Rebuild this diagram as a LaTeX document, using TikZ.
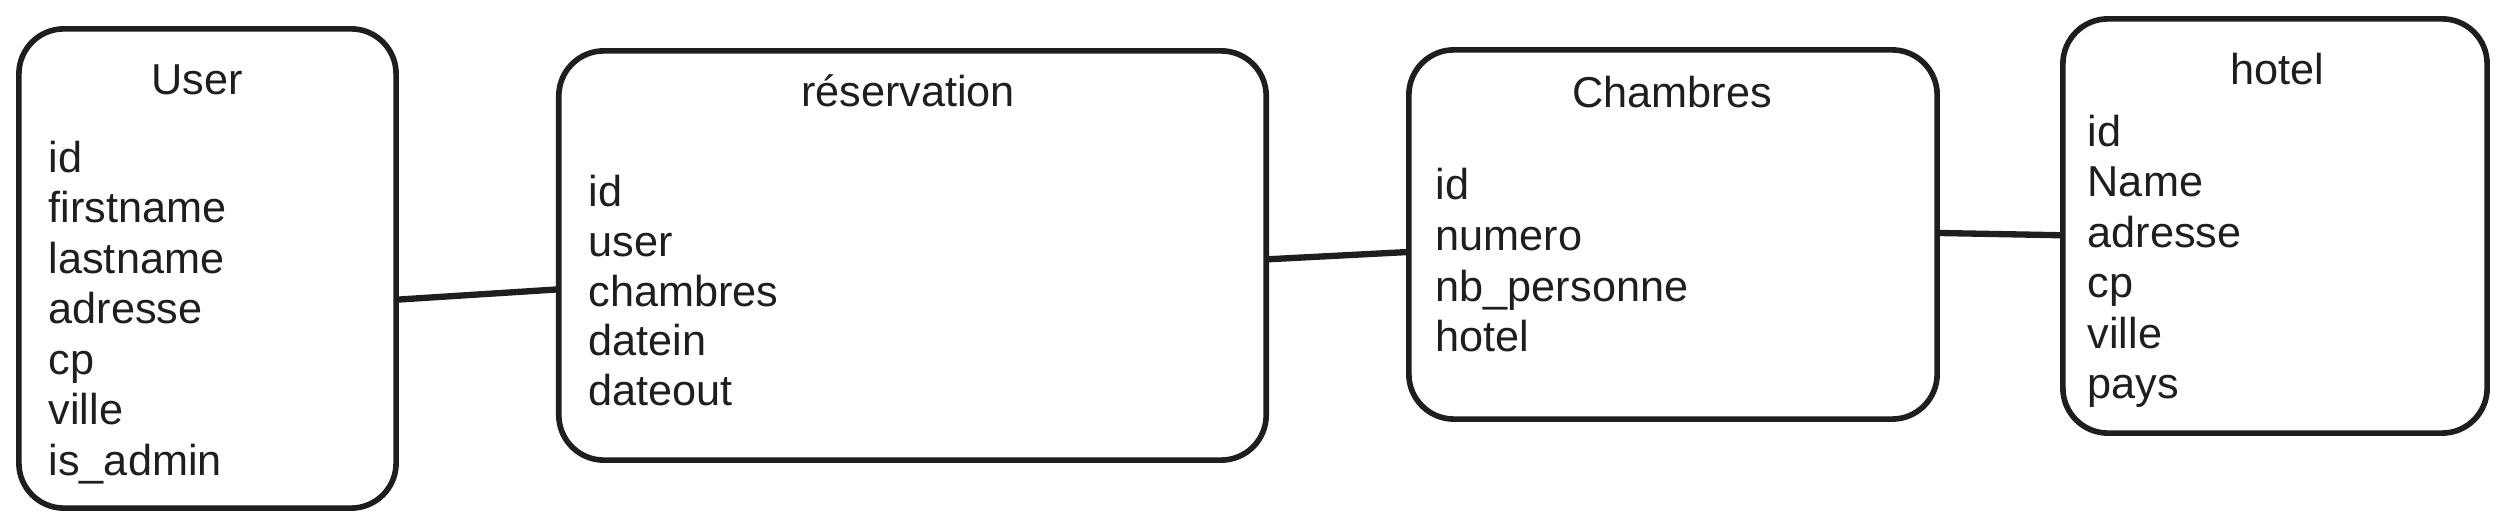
\documentclass[tikz,border=0pt]{standalone}
\usepackage{fontspec}
\setmainfont{Liberation Sans}
\usetikzlibrary{calc}

\definecolor{ink}{HTML}{1E1E1E}
\tikzset{
  table/.style={draw=ink, line width=1.6pt, rounded corners=4.5mm, inner sep=0pt},
  title/.style={text=ink, inner sep=0pt, yshift=-0.5mm, text height=2.9mm, text depth=0.9mm, font=\fontsize{12.3}{14}\selectfont},
  field/.style={title, anchor=west},
  link/.style={draw=ink, line width=1.8pt, line cap=round},
}

\begin{document}
\begin{tikzpicture}[x=0.01cm, y=-0.01cm]
\useasboundingbox (0,0) rectangle (2506,528);
% tables
\node[table, minimum width=3.77cm, minimum height=4.79cm] (user) at (207.5,268.5) {};
\node[table, minimum width=7.07cm, minimum height=4.09cm] (resa) at (912.5,255.5) {};
\node[table, minimum width=5.28cm, minimum height=3.69cm] (chambres) at (1673,234.5) {};
\node[table, minimum width=4.24cm, minimum height=4.14cm] (hotel) at (2275,226) {};

% titles
\node[title] (user-t) at (197,80) {User};
\node[title] (resa-t) at (908,91) {réservation};
\node[title] (chambres-t) at (1672,93) {Chambres};
\node[title] (hotel-t) at (2277,70) {hotel};

% fields
\foreach \f [count=\i] in {id,firstname,lastname,adresse,cp,ville,is\_admin}
  \node[field] (user-\i) at (48,{157+50.5*(\i-1)}) {\f};
\foreach \f [count=\i] in {id,user,chambres,datein,dateout}
  \node[field] (resa-\i) at (588,{192+49.5*(\i-1)}) {\f};
\foreach \f [count=\i] in {id,numero,nb\_personne,hotel}
  \node[field] (chambres-\i) at (1435,{185+50.6*(\i-1)}) {\f};
\foreach \f [count=\i] in {id,Name,adresse,cp,ville,pays}
  \node[field] (hotel-\i) at (2087,{131+50.5*(\i-1)}) {\f};

% links
\draw[link] ($(user.north east)!0.564!(user.south east)$) -- ($(resa.north west)!0.582!(resa.south west)$);
\draw[link] ($(resa.north east)!0.509!(resa.south east)$) -- ($(chambres.north west)!0.547!(chambres.south west)$);
\draw[link] ($(chambres.north east)!0.496!(chambres.south east)$) -- ($(hotel.north west)!0.522!(hotel.south west)$);
\end{tikzpicture}
\end{document}
